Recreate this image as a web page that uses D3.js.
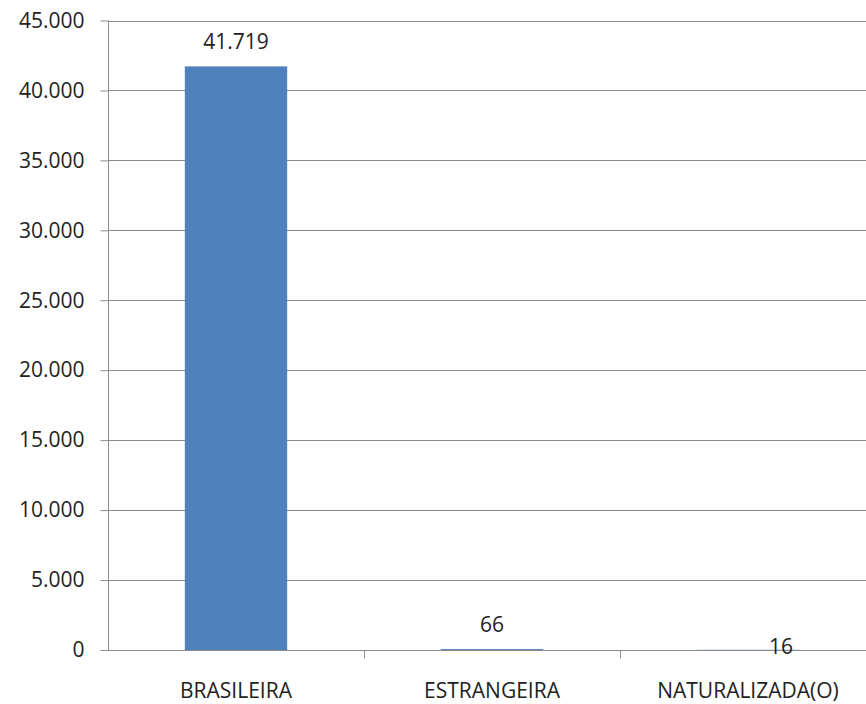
<!DOCTYPE html>
<html>
<head>
<meta charset="utf-8">
<script src="https://cdn.jsdelivr.net/npm/d3@7"></script>
<style>
  body { margin: 0; background: white; }
  svg text { font-family: "Open Sans", "Noto Sans", sans-serif; fill: #222; }
</style>
</head>
<body>
<div id="main_content"></div>
<script>
var width = 866, height = 704;

var categories = ['BRASILEIRA', 'ESTRANGEIRA', 'NATURALIZADA(O)'];
var values = [41719, 66, 16];
var yTicks = [0, 5000, 10000, 15000, 20000, 25000, 30000, 35000, 40000, 45000];

var fmt = d3.format(',d');
var ptbr = function(v) { return fmt(v).replace(/,/g, '.'); };

var svg = d3.select('#main_content').append('svg')
  .attr('width', width)
  .attr('height', height)
  .style('background', 'white');

var x = d3.scaleBand()
  .domain(categories)
  .range([108, 876])
  .padding(0);

var y = d3.scaleLinear()
  .domain([0, 45000])
  .range([650, 20.5]);

// gridlines
svg.append('g').selectAll('line')
  .data(yTicks.slice(1))
  .enter().append('line')
  .attr('x1', 108).attr('x2', width)
  .attr('y1', function(d) { return Math.round(y(d)) + 0.5; })
  .attr('y2', function(d) { return Math.round(y(d)) + 0.5; })
  .attr('stroke', '#8c8c8c');

// bars
var barW = x.bandwidth() * 0.4;
svg.append('g').selectAll('rect')
  .data(values)
  .enter().append('rect')
  .attr('x', function(d, i) { return x(categories[i]) + (x.bandwidth() - barW) / 2; })
  .attr('y', function(d) { return y(d); })
  .attr('width', barW)
  .attr('height', function(d) { return Math.max(650 - y(d), 0); })
  .attr('fill', '#4f81bd');

// y axis
var yAxis = svg.append('g')
  .attr('transform', 'translate(108.5,0)')
  .call(d3.axisLeft(y).tickValues(yTicks).tickFormat(ptbr).tickSize(8).tickPadding(16));
yAxis.select('.domain').attr('stroke', '#8c8c8c').attr('d', 'M0,20.5V650');
yAxis.selectAll('.tick line').attr('stroke', '#8c8c8c');
yAxis.selectAll('.tick text').style('font-size', '21px').attr('fill', '#222');

// x axis
var xAxis = svg.append('g')
  .attr('transform', 'translate(0,650.5)');
xAxis.append('line')
  .attr('x1', 108).attr('x2', width)
  .attr('stroke', '#8c8c8c');
xAxis.selectAll('.tk')
  .data(categories)
  .enter().append('line')
  .attr('class', 'tk')
  .attr('x1', function(d) { return Math.round(x(d) + x.bandwidth()) + 0.5; })
  .attr('x2', function(d) { return Math.round(x(d) + x.bandwidth()) + 0.5; })
  .attr('y1', 0).attr('y2', 8)
  .attr('stroke', '#8c8c8c');
xAxis.selectAll('text')
  .data(categories)
  .enter().append('text')
  .attr('x', function(d) { return x(d) + x.bandwidth() / 2; })
  .attr('y', 47)
  .attr('text-anchor', 'middle')
  .style('font-size', '21px')
  .text(function(d) { return d; });

// value labels (last one was moved by hand in the original)
var nudge = [[0, 0], [0, 0], [33, 21]];
svg.append('g').selectAll('text')
  .data(values)
  .enter().append('text')
  .attr('x', function(d, i) { return x(categories[i]) + x.bandwidth() / 2 + nudge[i][0]; })
  .attr('y', function(d, i) { return y(d) - 17 + nudge[i][1]; })
  .attr('text-anchor', 'middle')
  .style('font-size', '21px')
  .text(function(d) { return ptbr(d); });
</script>
</body>
</html>
